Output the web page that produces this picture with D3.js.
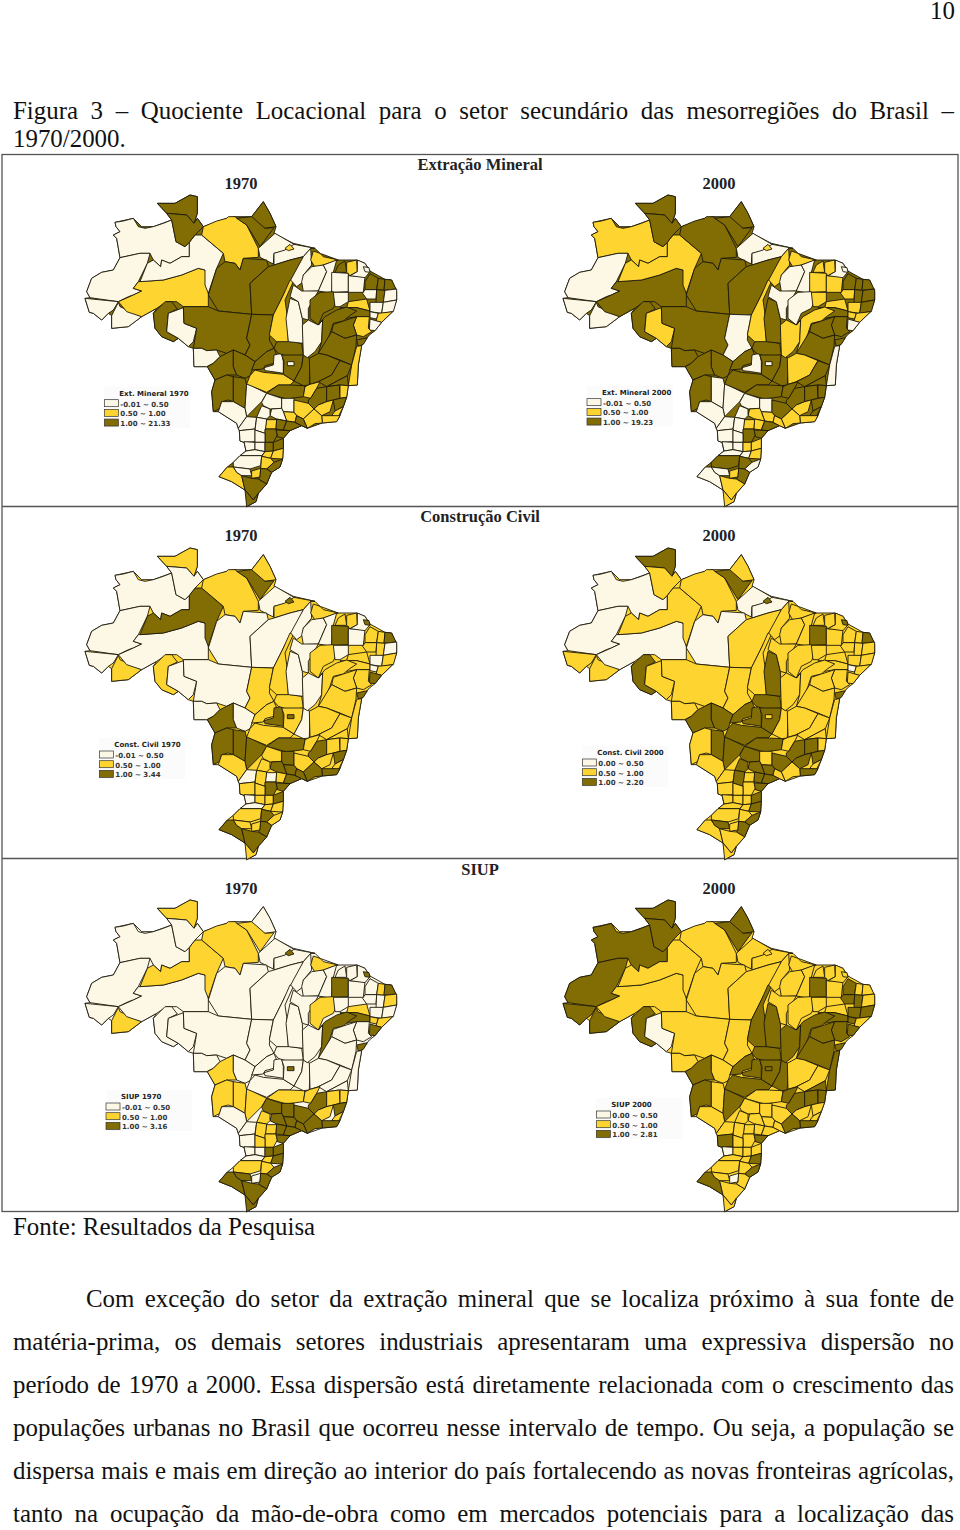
<!DOCTYPE html>
<html>
<head>
<meta charset="utf-8">
<script src="https://cdn.jsdelivr.net/npm/d3@7"></script>
<style>
body { margin: 0; background: white; }
svg { display: block; }
</style>
</head>
<body>
<svg id="page"></svg>
<script>
// outline of the country, traced by hand from the first map (units are 1/3 px of the picture)
let countryOutline = [[135,112],[190,100],[215,125],[250,125],[305,105],[290,85],[262,55],[315,55],[360,30],[382,35],[382,85],[372,115],[382,100],[400,125],[470,100],[495,95],[545,95],[580,50],[600,85],[618,125],[612,145],[670,175],[735,190],[750,205],[805,225],[860,225],[885,235],[900,258],[945,283],[965,285],[980,320],[980,345],[968,380],[935,412],[915,437],[898,450],[892,458],[875,482],[865,540],[862,600],[835,602],[830,637],[820,665],[810,692],[800,710],[757,714],[712,730],[695,722],[660,737],[640,760],[640,790],[638,822],[630,846],[605,862],[590,897],[565,925],[558,950],[530,965],[550,945],[525,915],[485,890],[447,875],[472,846],[490,832],[510,812],[528,798],[522,772],[510,768],[508,737],[505,730],[500,715],[445,680],[430,680],[425,620],[435,585],[412,545],[372,545],[370,490],[355,485],[325,460],[310,470],[275,455],[255,430],[250,385],[260,370],[215,395],[175,425],[125,430],[125,392],[115,385],[95,405],[70,385],[58,382],[45,340],[60,338],[50,320],[65,280],[95,262],[130,255],[150,218],[140,160],[130,150],[150,140],[138,125]];

// mesorregioes
let regionShapes = [
[[135,112],[160,108],[190,100],[205,125],[225,130],[250,125],[280,115],[305,105],[312,140],[318,170],[345,185],[358,172],[358,215],[335,215],[300,235],[275,225],[272,245],[250,225],[240,205],[210,205],[150,218],[140,160],[130,150],[150,140],[138,125]],
[[150,218],[210,205],[240,205],[232,235],[205,290],[190,310],[215,318],[190,330],[175,335],[145,350],[60,338],[50,320],[65,280],[95,262],[130,255]],
[[45,340],[145,350],[130,375],[115,385],[95,405],[70,385],[58,382]],
[[145,352],[150,365],[215,395],[175,425],[125,430],[125,392]],
[[145,350],[190,330],[215,318],[190,310],[205,290],[280,285],[335,270],[385,250],[405,255],[415,290],[415,365],[340,365],[320,350],[290,350],[260,370],[215,395],[170,380]],
[[232,235],[250,225],[272,245],[275,225],[300,235],[335,215],[358,215],[358,172],[375,150],[395,150],[460,205],[440,250],[415,325],[405,300],[405,255],[385,250],[335,270],[280,285],[210,290]],
[[262,55],[315,55],[360,30],[382,35],[382,85],[372,115],[350,90],[290,85]],
[[290,85],[350,90],[372,115],[382,100],[400,125],[375,150],[358,172],[345,185],[318,170],[305,105]],
[[400,125],[440,108],[470,100],[475,95],[495,95],[530,120],[565,190],[565,217],[520,220],[510,255],[495,235],[465,230],[460,205],[395,150]],
[[545,95],[580,50],[600,85],[618,125],[585,130],[550,118]],
[[500,100],[545,95],[585,130],[612,128],[570,185],[530,120]],
[[615,145],[672,178],[655,195],[612,205],[610,237],[570,217],[565,190]],
[[612,205],[645,195],[672,178],[735,190],[722,190],[700,215],[660,225],[612,240]],
[[645,190],[660,178],[672,192],[655,197]],
[[465,230],[495,235],[510,255],[520,220],[590,225],[595,245],[540,295],[545,388],[445,378],[415,330],[440,250]],
[[595,245],[612,240],[660,225],[700,215],[672,285],[645,320],[610,390],[545,388],[540,295]],
[[250,385],[285,350],[305,350],[322,372],[295,385],[290,440],[325,460],[310,470],[275,455],[255,430]],
[[295,385],[340,368],[342,415],[380,430],[370,470],[355,485],[325,460],[290,440]],
[[340,365],[415,365],[445,378],[545,388],[530,460],[540,480],[525,510],[490,495],[470,505],[440,495],[410,497],[395,490],[370,490],[380,430],[342,415]],
[[545,388],[610,390],[600,440],[598,465],[612,490],[590,500],[555,530],[525,510],[540,480],[530,460]],

[[370,490],[395,490],[410,497],[440,495],[450,515],[430,535],[410,545],[372,545]],
[[450,515],[470,505],[490,495],[490,545],[500,570],[470,570],[435,585],[412,545],[430,535]],
[[490,495],[525,510],[555,530],[540,572],[525,580],[500,570],[490,545]],
[[435,585],[470,570],[490,575],[490,650],[475,645],[455,650],[450,670],[430,680],[425,620]],
[[490,575],[525,580],[530,600],[525,670],[490,650]],
[[530,595],[590,625],[575,650],[530,695],[525,670]],
[[455,650],[490,650],[525,670],[530,695],[505,730],[500,715],[445,680]],
[[540,572],[555,555],[580,562],[640,568],[672,588],[660,600],[625,600],[590,622],[530,597]],
[[555,530],[590,500],[612,490],[620,510],[612,535],[585,542],[580,552],[545,555]],
[[582,548],[610,540],[612,510],[635,505],[640,530],[640,565],[610,560],[585,557]],

[[612,490],[620,470],[650,468],[695,475],[700,510],[655,515],[625,505]],
[[635,510],[700,510],[695,545],[672,588],[640,568],[642,530]],
[[652,530],[672,530],[672,542],[652,542]],
[[700,510],[720,520],[718,600],[700,602],[672,588],[695,545]],
[[660,285],[672,285],[645,345],[650,380],[655,470],[620,470],[598,450],[610,390],[640,330]],
[[660,340],[685,350],[697,400],[700,475],[655,470],[648,400]],
[[722,190],[725,240],[700,270],[700,290],[680,305],[662,285],[700,215]],
[[730,198],[750,205],[760,215],[805,225],[760,240],[735,247],[722,225]],
[[725,245],[760,240],[770,260],[745,318],[700,320],[695,290],[700,270]],
[[760,240],[800,225],[790,262],[785,325],[745,318],[770,260]],

[[670,300],[695,318],[745,318],[715,370],[715,405],[697,400],[685,350],[660,335]],
[[795,262],[805,240],[825,228],[830,262]],
[[830,232],[860,225],[862,260],[840,272],[830,262]],
[[785,262],[835,265],[835,320],[785,322]],
[[720,345],[750,322],[790,320],[800,345],[790,370],[760,385],[745,420],[720,400]],
[[790,322],[835,322],[835,350],[810,365],[795,365]],
[[835,272],[885,275],[880,322],[835,322]],
[[862,225],[885,235],[900,260],[885,278],[840,272],[862,260]],
[[880,245],[897,248],[900,262],[885,260]],
[[885,290],[900,266],[925,280],[920,314],[885,314]],

[[925,280],[945,283],[942,316],[920,314]],
[[945,283],[965,285],[978,312],[942,316]],
[[885,314],[920,314],[918,342],[890,342],[878,325]],
[[920,314],[945,316],[940,352],[918,355]],
[[945,316],[980,312],[980,345],[940,352]],
[[835,350],[890,342],[900,378],[860,368],[830,368]],
[[810,368],[860,368],[900,378],[900,395],[860,395],[830,400]],
[[900,352],[940,352],[935,385],[900,380]],
[[940,352],[980,345],[970,380],[935,385]],
[[900,380],[925,385],[920,402],[900,398]],

[[925,385],[968,380],[935,412],[918,408]],
[[900,402],[935,412],[915,437],[898,435]],
[[700,510],[697,420],[715,405],[745,420],[758,405],[755,470],[735,500],[712,518]],
[[745,420],[765,395],[800,375],[830,366],[860,378],[835,395],[820,408],[790,415],[780,445],[757,505],[745,505],[755,470],[758,405]],
[[860,395],[898,395],[895,430],[905,440],[880,455],[860,450],[850,420]],
[[790,418],[820,408],[860,395],[850,420],[860,450],[825,460],[785,440]],
[[860,465],[892,458],[880,478],[865,484]],
[[745,505],[785,440],[825,460],[860,450],[858,484],[845,540],[810,525],[770,510]],
[[860,484],[875,482],[865,540],[862,600],[835,602],[845,540]],
[[718,520],[745,505],[770,510],[810,527],[785,570],[745,590],[720,598]],

[[745,590],[785,570],[810,527],[845,540],[832,572],[770,605]],
[[770,605],[832,572],[835,602],[808,600]],
[[590,625],[625,600],[660,600],[700,602],[705,605],[700,635],[650,642]],
[[700,635],[705,605],[720,598],[750,590],[740,610],[722,640]],
[[575,652],[590,625],[635,640],[635,670],[600,672],[580,662]],
[[635,640],[672,640],[672,682],[640,680],[635,670]],
[[672,645],[715,655],[732,672],[700,702],[680,692],[672,682]],
[[715,645],[722,640],[740,610],[770,605],[770,650],[745,660],[732,672],[715,655]],
[[770,605],[808,600],[810,640],[790,645],[770,650]],
[[810,600],[835,602],[830,637],[810,640]],

[[745,660],[770,650],[790,645],[780,680],[755,692],[732,672]],
[[790,645],[810,640],[830,637],[820,665],[795,678]],
[[795,678],[820,665],[805,695],[785,692]],
[[755,692],[785,692],[810,692],[800,710],[757,714]],
[[700,702],[732,672],[755,692],[757,714],[735,716],[712,730]],
[[640,680],[672,682],[680,692],[675,712],[650,708]],
[[605,672],[635,670],[640,680],[650,708],[620,702],[600,692]],
[[575,662],[600,672],[600,692],[590,702],[560,697]],
[[530,695],[560,697],[555,732],[508,737],[505,730]],
[[590,704],[620,704],[618,732],[585,732]],

[[560,697],[590,702],[585,745],[555,735]],
[[620,702],[650,708],[640,735],[618,732]],
[[650,708],[675,712],[695,722],[660,737],[640,735]],
[[680,692],[700,702],[712,730],[695,722],[675,712]],
[[585,732],[618,732],[622,750],[610,772],[585,772]],
[[618,735],[660,737],[640,760],[622,755],[622,750]],
[[508,737],[555,732],[555,770],[522,772],[510,768]],
[[555,735],[585,745],[585,772],[555,772]],
[[522,770],[555,772],[555,794],[528,798]],
[[555,772],[585,772],[585,800],[555,794]],

[[585,772],[610,772],[610,798],[585,800]],
[[610,772],[640,760],[640,790],[610,798]],
[[528,798],[555,794],[585,800],[575,812],[510,812]],
[[585,800],[610,798],[602,820],[575,814]],
[[610,798],[640,790],[638,822],[602,820]],
[[490,832],[510,812],[575,812],[572,842],[540,852],[490,846]],
[[575,814],[602,820],[612,832],[590,852],[572,850]],
[[612,832],[638,822],[630,846],[605,862],[590,852]],
[[472,846],[490,846],[500,862],[515,872],[525,915],[485,890],[447,875]],
[[490,846],[540,852],[545,872],[515,872],[500,862]],

[[545,858],[572,850],[570,876],[545,880]],
[[572,850],[590,852],[605,862],[590,897],[565,882],[570,876]],
[[515,872],[545,880],[565,882],[590,897],[565,925],[550,945],[525,915]],
[[525,915],[550,945],[565,925],[558,950],[530,965]]
];

// classe de cada mesorregiao: 0 = ate 0.50, 1 = 0.50 a 1.00, 2 = acima de 1.00
let extMineral1970 = [
0,0,0,0,1,0,2,2,1,2, 2,0,0,1,2,2,2,0,2,2, 0,2,2,2,2,0,0,1,2,0,
2,2,0,2,1,0,0,1,0,0, 0,2,1,0,2,0,0,0,0,2, 2,2,0,2,0,1,2,0,0,0,
1,0,0,2,1,2,2,2,1,2, 2,2,2,1,0,0,1,2,2,1, 1,2,1,1,1,1,0,0,0,1,
0,2,2,2,2,2,0,0,0,0, 2,2,0,1,1,0,1,2,1,0, 1,2,2,2];
let extMineral2000 = [
1,0,0,0,2,1,2,2,2,2, 2,0,0,1,2,2,2,1,2,0, 2,2,2,2,0,0,0,2,2,0,
2,2,0,2,1,2,1,1,0,0, 0,1,1,1,0,1,1,0,0,2, 2,2,1,2,2,1,2,1,2,1,
1,0,1,1,2,2,2,2,0,1, 2,2,2,2,0,0,2,2,2,2, 1,2,2,1,1,1,1,0,0,1,
0,1,2,1,2,2,0,0,0,0, 1,1,0,0,1,2,2,0,0,0, 1,2,1,1];
let constCivil1970 = [
0,0,0,1,0,2,1,0,1,1, 2,0,1,2,0,0,1,0,0,1, 0,2,0,2,2,2,1,1,1,2,
1,1,2,0,1,0,0,1,0,0, 0,1,1,2,1,0,0,0,2,1, 1,2,1,1,0,1,1,0,1,0,
1,2,0,1,1,1,2,1,1,1, 1,1,2,1,1,2,1,2,1,1, 1,2,1,2,2,2,2,1,0,0,
1,1,2,2,2,2,1,1,0,1, 1,2,0,1,1,1,2,1,2,1, 1,2,2,1];
let constCivil2000 = [
0,0,1,1,0,1,2,1,1,1, 2,0,0,2,0,1,2,1,1,1, 1,2,2,1,2,2,1,2,2,2,
2,2,1,1,1,2,1,1,1,1, 1,1,1,2,1,1,1,1,2,1, 1,2,1,1,1,1,1,1,1,0,
1,1,1,1,1,1,2,1,1,1, 1,1,2,1,2,1,2,2,2,1, 2,2,1,2,1,2,2,2,1,1,
2,2,2,1,1,2,1,1,1,1, 1,2,1,1,2,1,1,2,1,2, 1,2,1,1];
let siup1970 = [
0,0,0,1,0,1,1,0,1,0, 1,0,0,2,0,0,0,0,0,0, 0,1,0,1,1,1,0,0,0,0,
0,0,2,0,0,0,0,1,0,0, 0,0,0,2,1,0,0,0,2,0, 1,2,0,0,1,1,2,0,0,1,
1,2,0,2,0,0,2,0,0,0, 0,0,1,1,2,2,2,2,1,1, 1,2,1,2,2,2,2,1,0,1,
1,2,2,2,1,2,0,1,0,0, 2,2,0,1,2,1,1,2,2,2, 0,2,2,2];
let siup2000 = [
2,2,2,2,1,1,2,2,1,2, 2,1,1,1,1,1,2,0,1,1, 1,2,1,2,1,2,1,2,2,2,
2,2,2,2,2,2,1,1,1,1, 1,1,1,2,1,1,1,1,1,2, 1,1,2,2,1,1,2,2,2,2,
1,2,2,2,2,2,2,2,2,1, 1,2,1,2,1,1,1,2,2,2, 1,1,1,2,2,1,1,1,1,1,
1,1,1,1,1,2,2,1,0,1, 1,1,1,1,2,1,1,2,2,1, 0,1,1,1];

let sectorTitles = ["Extração Mineral", "Construção Civil", "SIUP"];
let yearLabels = ["1970", "2000"];
let classColors = ["#fdf8e6", "#fed530", "#826c04"];

let legendTitles = ["Ext. Mineral 1970", "Ext. Mineral 2000", "Const. Civil 1970", "Const. Civil 2000", "SIUP 1970", "SIUP 2000"];
let legendLabels = [
    ["-0.01 ~ 0.50", "0.50 ~ 1.00", "1.00 ~ 21.33"],
    ["-0.01 ~ 0.50", "0.50 ~ 1.00", "1.00 ~ 19.23"],
    ["-0.01 ~ 0.50", "0.50 ~ 1.00", "1.00 ~ 3.44"],
    ["0.00 ~ 0.50", "0.50 ~ 1.00", "1.00 ~ 2.20"],
    ["-0.01 ~ 0.50", "0.50 ~ 1.00", "1.00 ~ 3.16"],
    ["0.00 ~ 0.50", "0.50 ~ 1.00", "1.00 ~ 2.81"]
];
let mapValues = [extMineral1970, extMineral2000, constCivil1970, constCivil2000, siup1970, siup2000];

let captionLines = ["Figura 3 – Quociente Locacional para o setor secundário das mesorregiões do Brasil –", "1970/2000."];
let sourceLine = "Fonte: Resultados da Pesquisa";
let bodyLines = [
    "Com exceção do setor da extração mineral que se localiza próximo à sua fonte de",
    "matéria-prima, os demais setores industriais apresentaram uma expressiva dispersão no",
    "período de 1970 a 2000. Essa dispersão está diretamente relacionada com o crescimento das",
    "populações urbanas no Brasil que ocorreu nesse intervalo de tempo. Ou seja, a população se",
    "dispersa mais e mais em direção ao interior do país fortalecendo as novas fronteiras agrícolas,",
    "tanto na ocupação da mão-de-obra como em mercados potenciais para a localização das"
];

let width = 960;
let height = 1530;
let serif = "'Liberation Serif', serif";

let svg = d3.select("#page").attr("width", width).attr("height", height);

let scaleX = d3.scaleLinear().domain([0, 1020]).range([0, 340]);
let scaleY = d3.scaleLinear().domain([0, 975]).range([0, 325]);
let shapeLine = d3.line().x(d => scaleX(d[0])).y(d => scaleY(d[1])).curve(d3.curveLinearClosed);
let colorScale = d3.scaleOrdinal().domain([0, 1, 2]).range(classColors);

// frame with the three rows
svg.append("rect").attr("x", 2).attr("y", 154.5).attr("width", 956).attr("height", 1057)
   .attr("fill", "none").attr("stroke", "#555").attr("stroke-width", 1.3);
[506.5, 858.5].forEach(y => {
    svg.append("line").attr("x1", 2).attr("x2", 958).attr("y1", y).attr("y2", y)
       .attr("stroke", "#555").attr("stroke-width", 1.3);
});

let rowTop = [185, 538, 890];
let colLeft = [70, 548];
let legendPos = [[103, 605], [117, 602], [88, 600], [103, 624], [108, 600], [145, 624]];

mapValues.forEach((values, i) => {
    let row = Math.floor(i / 2);
    let col = i % 2;
    let g = svg.append("g").attr("transform", `translate(${colLeft[col]},${rowTop[row]})`);

    // whatever the traced shapes leave open takes the commonest class of that map
    g.append("path")
     .attr("d", shapeLine(countryOutline))
     .attr("fill", colorScale(d3.mode(values)))
     .attr("stroke", "#1d1a0c")
     .attr("stroke-width", 0.9);

    g.selectAll("path.region")
     .data(regionShapes)
     .enter()
     .append("path")
     .attr("class", "region")
     .attr("d", d => shapeLine(d))
     .attr("fill", (d, k) => colorScale(values[k]))
     .attr("stroke", "#1d1a0c")
     .attr("stroke-width", 0.9)
     .attr("stroke-linejoin", "round");

    drawLegend(g, legendTitles[i], legendLabels[i], legendPos[i]);
});

function drawLegend(g, title, labels, pos) {
    let x0 = scaleX(pos[0]);
    let y0 = scaleY(pos[1]);
    let lg = g.append("g").attr("transform", `translate(${x0},${y0})`);
    lg.append("rect").attr("x", 0).attr("y", 0).attr("width", 86).attr("height", 41).attr("fill", "#fbfbfb");
    lg.append("text").attr("x", 15).attr("y", 9).text(title)
      .attr("font-family", "'DejaVu Sans'").attr("font-size", 7).attr("font-weight", "bold").attr("fill", "#222");
    labels.forEach((t, k) => {
        lg.append("rect").attr("x", 0).attr("y", 13 + k * 9.7).attr("width", 14).attr("height", 7)
          .attr("fill", classColors[k]).attr("stroke", "#333").attr("stroke-width", 0.7);
        lg.append("text").attr("x", 16).attr("y", 20 + k * 9.7).text(t)
          .attr("font-family", "'DejaVu Sans'").attr("font-size", 7).attr("font-weight", "bold").attr("fill", "#333");
    });
}

// section headings
sectorTitles.forEach((t, r) => {
    svg.append("text").attr("x", 480).attr("y", [170, 522, 875][r]).attr("text-anchor", "middle").text(t)
       .attr("font-family", serif).attr("font-size", 16.5).attr("font-weight", "bold").attr("fill", "#222");
    yearLabels.forEach((y, c) => {
        svg.append("text").attr("x", [241, 719][c]).attr("y", [189, 541, 894][r]).attr("text-anchor", "middle").text(y)
           .attr("font-family", serif).attr("font-size", 16.5).attr("font-weight", "bold").attr("fill", "#222");
    });
});

function addLine(str, x, y, justifyTo) {
    let t = svg.append("text").attr("x", x).attr("y", y).text(str)
        .attr("font-family", serif).attr("font-size", 24.9).attr("fill", "#111");
    if (justifyTo) {
        let gaps = str.split(" ").length - 1;
        let extra = (justifyTo - x - t.node().getComputedTextLength()) / gaps;
        t.attr("word-spacing", extra);
    }
}

svg.append("text").attr("x", 955).attr("y", 19).attr("text-anchor", "end").text("10")
   .attr("font-family", serif).attr("font-size", 24.9).attr("fill", "#111");

addLine(captionLines[0], 13, 119, 954);
addLine(captionLines[1], 13, 147);
addLine(sourceLine, 13, 1235);

bodyLines.forEach((l, i) => {
    addLine(l, i === 0 ? 86 : 13, 1307 + i * 43, 954);
});
</script>
</body>
</html>
